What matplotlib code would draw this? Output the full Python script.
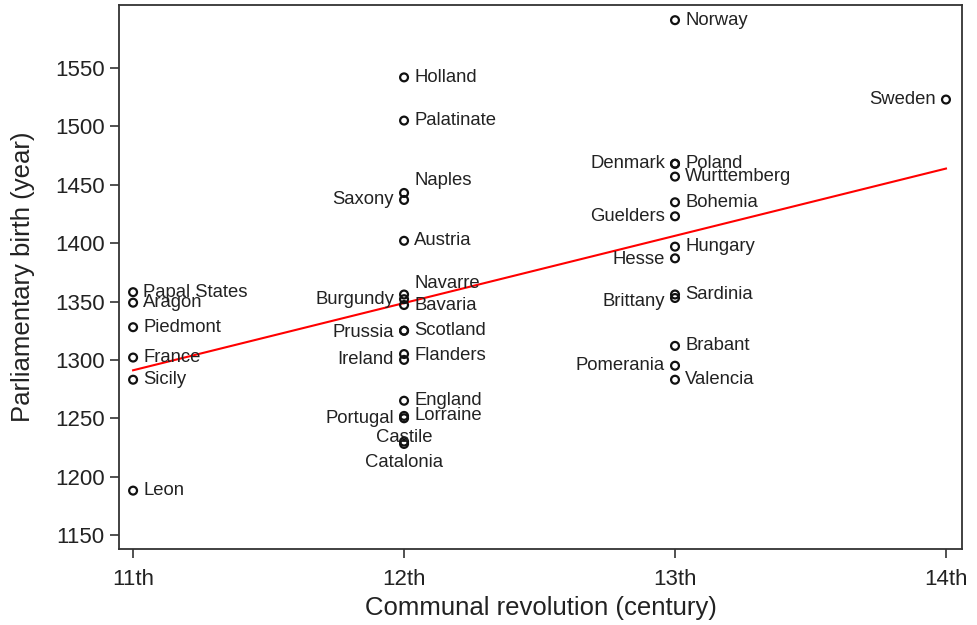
import matplotlib
matplotlib.use("Agg")
import matplotlib.pyplot as plt
import numpy as np

plt.rcParams['font.family'] = ['Liberation Sans', 'DejaVu Sans']

# data: (century of communal revolution, year of parliamentary birth)
names_11 = ['Papal States', 'Aragon', 'Piedmont', 'France', 'Sicily', 'Leon']
years_11 = [1358, 1349, 1328, 1302, 1283, 1188]

names_12 = ['Holland', 'Palatinate', 'Naples', 'Saxony', 'Austria', 'Navarre',
            'Burgundy', 'Bavaria', 'Prussia', 'Scotland', 'Flanders', 'Ireland',
            'England', 'Lorraine', 'Portugal', 'Castile', 'Catalonia']
years_12 = [1542, 1505, 1443, 1437, 1402, 1356, 1352, 1347, 1325, 1325,
            1305, 1300, 1265, 1252, 1250, 1230, 1228]

names_13 = ['Norway', 'Denmark', 'Poland', 'Wurttemberg', 'Bohemia', 'Guelders',
            'Hungary', 'Hesse', 'Sardinia', 'Brittany', 'Brabant', 'Pomerania',
            'Valencia']
years_13 = [1591, 1468, 1468, 1457, 1435, 1423, 1397, 1387, 1356, 1353,
            1312, 1295, 1283]

names_14 = ['Sweden']
years_14 = [1523]

century_ticks = [11, 12, 13, 14]
century_labels = ['11th', '12th', '13th', '14th']

names = names_11 + names_12 + names_13 + names_14
years = np.array(years_11 + years_12 + years_13 + years_14, dtype=float)
century = np.array([11] * len(years_11) + [12] * len(years_12)
                   + [13] * len(years_13) + [14] * len(years_14), dtype=float)

# label placement: side and vertical shift in pixels (styling only)
left_side = {'Saxony', 'Burgundy', 'Prussia', 'Ireland', 'Portugal', 'Denmark',
             'Guelders', 'Hesse', 'Brittany', 'Pomerania', 'Sweden'}
centered = {'Castile': 4, 'Catalonia': -19}
shift_up = {'Naples': 12, 'Navarre': 11, 'Prussia': -2, 'Flanders': -1,
            'Brittany': -3, 'Hesse': -1}

fig = plt.figure(figsize=(9.77, 6.25), dpi=100)
ax = fig.add_axes([0.1218, 0.1216, 0.8628, 0.8704])

ax.scatter(century, years, s=32, facecolors='none', edgecolors='#111111',
           linewidths=1.6, zorder=3)

# linear fit
p1, p0 = np.polyfit(century, years, deg=1)
xs = np.array([11, 14])
ax.plot(xs, p1 * xs + p0, color='red', lw=1.5, zorder=2)

lab_fs = 13.3
for nm, x, y in zip(names, century, years):
    if nm in centered:
        ax.annotate(nm, (x, y), xytext=(0, centered[nm] * 0.72),
                    textcoords='offset points', ha='center', va='center',
                    fontsize=lab_fs, color='#222222')
        continue
    dy = shift_up.get(nm, 0) * 0.72
    if nm in left_side:
        ax.annotate(nm, (x, y), xytext=(-7.2, dy), textcoords='offset points',
                    ha='right', va='center', fontsize=lab_fs, color='#222222')
    else:
        ax.annotate(nm, (x, y), xytext=(7.2, dy), textcoords='offset points',
                    ha='left', va='center', fontsize=lab_fs, color='#222222')

ax.set_xlim(10.948, 14.059)
ax.set_ylim(1138, 1604)
ax.set_xticks(century_ticks)
ax.set_xticklabels(century_labels)
ax.set_yticks(np.arange(1150, 1551, 50))

ax.tick_params(axis='both', labelsize=16, length=6.5, width=1.2,
               color='#333333', labelcolor='#222222', pad=4)
ax.tick_params(axis='x', pad=8)
for sp in ax.spines.values():
    sp.set_color('#333333')
    sp.set_linewidth(1.3)

ax.set_xlabel('Communal revolution (century)', fontsize=18.5, color='#222222',
              labelpad=4)
ax.set_ylabel('Parliamentary birth (year)', fontsize=18.5, color='#222222',
              labelpad=14)

fig.savefig('out.png', dpi=100)
